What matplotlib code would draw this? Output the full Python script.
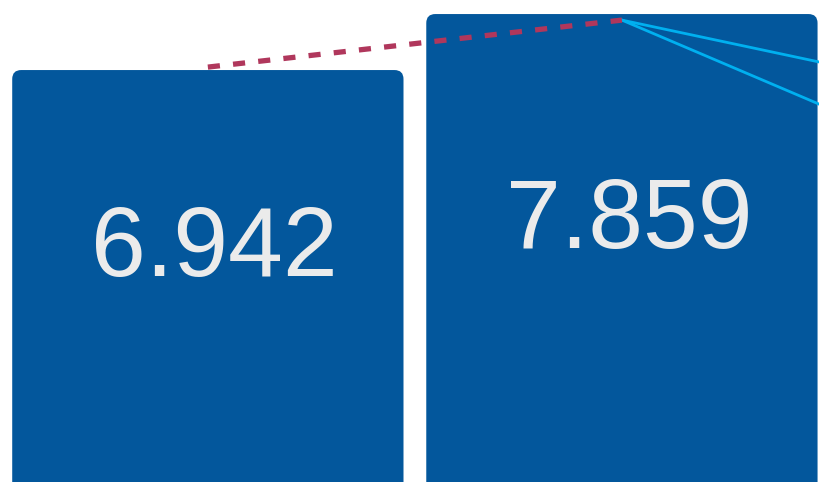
import numpy as np
import matplotlib
matplotlib.use("Agg")
import matplotlib.pyplot as plt
from matplotlib.patches import FancyBboxPatch

# data
categories = ["A", "B", "C"]
bar_values = [6.942, 7.859]
target_values = [6.99, 7.76]
cyan_a = [7.76, 6.32]
cyan_b = [7.76, 4.87]

bar_color = "#03579c"
text_color = "#ebebeb"
dash_color = "#b0375c"
cyan_color = "#00b0f0"

plt.rcParams["font.family"] = ["Liberation Sans", "DejaVu Sans"]

fig = plt.figure(figsize=(8.19, 4.82), dpi=100)
ax = fig.add_axes([0, 0, 1, 1])
ax.set_xlim(-0.502, 1.476)
ax.set_ylim(0.196, 8.089)
ax.axis("off")

x = np.arange(len(bar_values))
bars = ax.bar(x, bar_values, width=0.945, color=bar_color)

# swap plain rectangles for rounded ones
px_x = 819 / (1.476 + 0.502)
px_y = 482 / (8.089 - 0.196)
for b in bars:
    x0, y0 = b.get_x(), b.get_y()
    w, h = b.get_width(), b.get_height()
    b.remove()
    r = 9 / px_x
    patch = FancyBboxPatch((x0, y0), w, h,
                           boxstyle="round,pad=0,rounding_size=%f" % r,
                           mutation_aspect=px_x / px_y,
                           facecolor=bar_color, edgecolor="none")
    ax.add_patch(patch)

for xi, v in zip(x, bar_values):
    ax.annotate("%.3f" % v, (xi, v * 0.513), xytext=(5, 0),
                textcoords="offset points", ha="center", va="baseline",
                fontsize=71, color=text_color)

ax.plot(x, target_values, color=dash_color, lw=3.8, dashes=(2.3, 2.5),
        solid_capstyle="butt", zorder=5)

x2 = np.arange(1, 1 + len(cyan_a))
ax.plot(x2, cyan_a, color=cyan_color, lw=2.0, zorder=4)
ax.plot(x2, cyan_b, color=cyan_color, lw=2.0, zorder=4)

fig.savefig("out.png", dpi=100)
